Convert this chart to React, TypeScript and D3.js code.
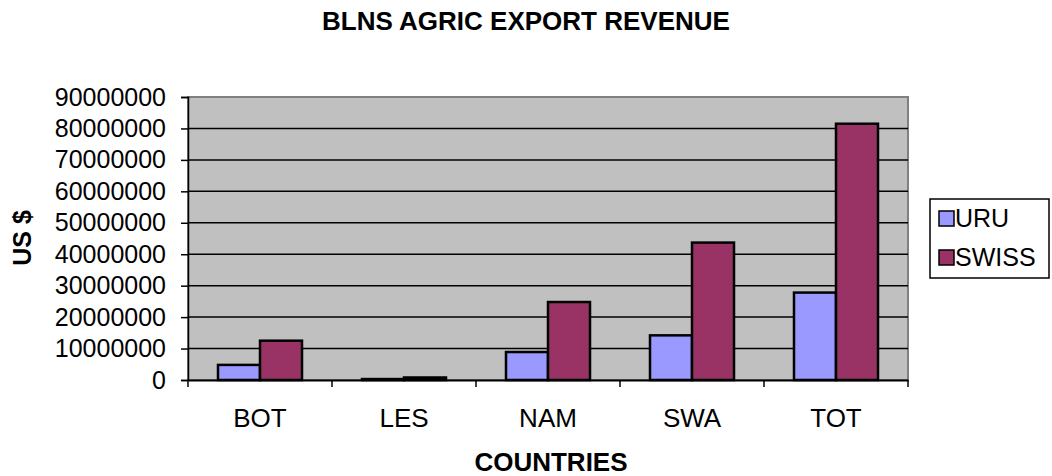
import { useEffect, useRef } from "react"
import * as d3 from "d3"

// values (US $)
const countries = ["BOT", "LES", "NAM", "SWA", "TOT"]
const seriesNames = ["URU", "SWISS"]
const uruValues = [4800000, 300000, 8900000, 14200000, 27800000]
const swissValues = [12500000, 800000, 24800000, 43700000, 81500000]
const yTicks = [0, 10000000, 20000000, 30000000, 40000000, 50000000, 60000000, 70000000, 80000000, 90000000]

const colors: Record<string, string> = { URU: "#9999FF", SWISS: "#993366" }
const font = "'Liberation Sans', Arial, sans-serif"

export default function App() {
  const svgRef = useRef<SVGSVGElement>(null)

  useEffect(() => {
    if (!svgRef.current) return
    const svg = d3.select(svgRef.current)
    svg.selectAll("*").remove()

    const width = 1052
    const height = 476
    const plot = { left: 188, right: 908, top: 97, bottom: 380 }

    const x0 = d3.scaleBand().domain(countries).range([plot.left, plot.right])
    // excel-style gap: two bars of ~42px inside a 144px category
    const x1 = d3.scaleBand().domain(seriesNames).range([0, x0.bandwidth()]).paddingInner(0).paddingOuter(0.714)
    const y = d3.scaleLinear().domain([0, 90000000]).range([plot.bottom, plot.top])

    svg.attr("width", width).attr("height", height).attr("viewBox", [0, 0, width, height])

    // plot background
    svg.append("rect")
      .attr("x", plot.left)
      .attr("y", plot.top)
      .attr("width", plot.right - plot.left)
      .attr("height", plot.bottom - plot.top)
      .attr("fill", "#C0C0C0")
      .attr("stroke", "#808080")
      .attr("stroke-width", 2)

    // gridlines
    svg.append("g")
      .selectAll("line")
      .data(yTicks.filter((d) => d > 0 && d < 90000000))
      .join("line")
      .attr("x1", plot.left)
      .attr("x2", plot.right)
      .attr("y1", (d) => y(d))
      .attr("y2", (d) => y(d))
      .attr("stroke", "#000")
      .attr("stroke-width", 1.5)

    // bars
    const data = countries.map((c, i) => ({ country: c, values: [
      { key: "URU", value: uruValues[i] },
      { key: "SWISS", value: swissValues[i] },
    ] }))

    svg.append("g")
      .selectAll("g")
      .data(data)
      .join("g")
      .attr("transform", (d) => `translate(${x0(d.country)},0)`)
      .selectAll("rect")
      .data((d) => d.values)
      .join("rect")
      .attr("x", (d) => x1(d.key)!)
      .attr("width", x1.bandwidth())
      .attr("y", (d) => y(d.value))
      .attr("height", (d) => y(0) - y(d.value))
      .attr("fill", (d) => colors[d.key])
      .attr("stroke", "#000")
      .attr("stroke-width", 2.5)

    // y axis
    const yAxis = svg.append("g")
      .attr("transform", `translate(${plot.left},0)`)
      .call(d3.axisLeft(y).tickValues(yTicks).tickFormat((d) => String(d)).tickSize(7).tickPadding(15))
    yAxis.select(".domain").attr("stroke", "#000").attr("stroke-width", 1.5)
    yAxis.selectAll(".tick line").attr("stroke", "#000").attr("stroke-width", 1.5)
    yAxis.selectAll(".tick text")
      .attr("font-family", font)
      .attr("font-size", 25)
      .attr("fill", "#000")

    // x axis
    const xAxis = svg.append("g")
      .attr("transform", `translate(0,${plot.bottom})`)
      .call(d3.axisBottom(x0).tickSize(0))
    xAxis.select(".domain").attr("stroke", "#000").attr("stroke-width", 2)
    xAxis.selectAll(".tick text")
      .attr("font-family", font)
      .attr("font-size", 26)
      .attr("fill", "#000")
      .attr("dy", null)
      .attr("y", 47)

    // category separators
    svg.append("g")
      .selectAll("line")
      .data(countries.map((c) => x0(c)!).concat([plot.right]))
      .join("line")
      .attr("x1", (d) => d)
      .attr("x2", (d) => d)
      .attr("y1", plot.bottom)
      .attr("y2", plot.bottom + 7)
      .attr("stroke", "#000")
      .attr("stroke-width", 1.5)

    // title
    svg.append("text")
      .attr("x", 526)
      .attr("y", 30)
      .attr("text-anchor", "middle")
      .attr("font-family", font)
      .attr("font-size", 26)
      .attr("font-weight", "bold")
      .text("BLNS AGRIC EXPORT REVENUE")

    svg.append("text")
      .attr("x", 551)
      .attr("y", 471)
      .attr("text-anchor", "middle")
      .attr("font-family", font)
      .attr("font-size", 26)
      .attr("font-weight", "bold")
      .text("COUNTRIES")

    svg.append("text")
      .attr("transform", `translate(31,238) rotate(-90)`)
      .attr("text-anchor", "middle")
      .attr("font-family", font)
      .attr("font-size", 25)
      .attr("font-weight", "bold")
      .text("US $")

    // legend
    const legend = svg.append("g")
    legend.append("rect")
      .attr("x", 930)
      .attr("y", 199)
      .attr("width", 119)
      .attr("height", 79)
      .attr("fill", "#fff")
      .attr("stroke", "#000")
      .attr("stroke-width", 1.5)
    const items = legend.selectAll("g.item")
      .data(seriesNames)
      .join("g")
      .attr("class", "item")
      .attr("transform", (_, i) => `translate(939,${211 + i * 39})`)
    items.append("rect")
      .attr("width", 15)
      .attr("height", 15)
      .attr("fill", (d) => colors[d])
      .attr("stroke", "#000")
      .attr("stroke-width", 1.5)
    items.append("text")
      .attr("x", 16)
      .attr("y", 16)
      .attr("font-family", font)
      .attr("font-size", 25)
      .text((d) => d)
  }, [])

  return <svg ref={svgRef} style={{ display: "block", position: "absolute", left: 0, top: 0 }} />
}
